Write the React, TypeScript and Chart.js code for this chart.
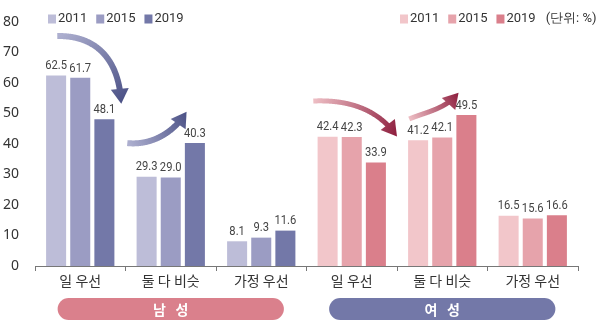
import React, { useEffect, useRef } from "react";
import { Chart, registerables } from "chart.js";

Chart.register(...registerables);

const categories = ["일 우선", "둘 다 비슷", "가정 우선", "일 우선", "둘 다 비슷", "가정 우선"];
const years = ["2011", "2015", "2019"];
const v2011 = [62.5, 29.3, 8.1, 42.4, 41.2, 16.5];
const v2015 = [61.7, 29.0, 9.3, 42.3, 42.1, 15.6];
const v2019 = [48.1, 40.3, 11.6, 33.9, 49.5, 16.6];
const yTickMin = 0;
const yTickMax = 80;
const yTickStep = 10;
const groupLabels = ["남   성", "여   성"];
const unitLabel = "(단위: %)";

const maleColors = ["#bdbdd8", "#9b9cc3", "#7378a8"];
const femaleColors = ["#f2c6ca", "#e6a3ab", "#da7f8b"];
const malePill = "#da808c";
const femalePill = "#7378a8";

// arrows: [catPos, value] for start, cp1, cp2, tip
const arrows = [
  { pts: [[-0.254, 75.4], [0.17, 75.6], [0.43, 68], [0.453, 53.2]], from: "#aeb0d0", to: "#4b5186", w: 6 },
  { pts: [[0.52, 40.3], [0.78, 39.5], [1.03, 43.5], [1.175, 50.6]], from: "#aeb0d0", to: "#4b5186", w: 6 },
  { pts: [[2.575, 54.1], [2.99, 54.6], [3.3, 51], [3.5, 42.5]], from: "#eebfc5", to: "#8d1d3d", w: 5 },
  { pts: [[3.635, 48.2], [3.83, 50.6], [4.04, 51.5], [4.18, 56.8]], from: "#eebfc5", to: "#8d1d3d", w: 5 },
];

const overlay = {
  id: "overlay",
  afterDatasetsDraw(chart: any) {
    const ctx = chart.ctx;
    const xs = chart.scales.x;
    const ys = chart.scales.y;
    const x0 = xs.getPixelForValue(0);
    const step = xs.getPixelForValue(1) - x0;
    const px = (c: number) => x0 + c * step;
    const py = (v: number) => ys.getPixelForValue(v);

    // value labels
    chart.data.datasets.forEach((ds: any, di: number) => {
      const meta = chart.getDatasetMeta(di);
      meta.data.forEach((bar: any, i: number) => {
        ctx.save();
        ctx.font = "13px Roboto";
        ctx.fillStyle = "#444";
        ctx.textAlign = "center";
        ctx.textBaseline = "bottom";
        ctx.translate(bar.x, bar.y - 3);
        ctx.scale(0.86, 1);
        ctx.fillText(ds.data[i].toFixed(1), 0, 0);
        ctx.restore();
      });
    });

    // arrows
    arrows.forEach((a) => {
      const P = a.pts.map(([c, v]) => [px(c), py(v)]);
      const [s, c1, c2, t] = P;
      const bez = (u: number) => {
        const m = 1 - u;
        return [
          m * m * m * s[0] + 3 * m * m * u * c1[0] + 3 * m * u * u * c2[0] + u * u * u * t[0],
          m * m * m * s[1] + 3 * m * m * u * c1[1] + 3 * m * u * u * c2[1] + u * u * u * t[1],
        ];
      };
      const headLen = 15;
      const headHalf = 9;
      const grad = ctx.createLinearGradient(s[0], s[1], t[0], t[1]);
      grad.addColorStop(0, a.from);
      grad.addColorStop(1, a.to);
      ctx.save();
      ctx.strokeStyle = grad;
      ctx.fillStyle = grad;
      ctx.lineWidth = a.w;
      ctx.lineCap = "butt";
      ctx.beginPath();
      ctx.moveTo(s[0], s[1]);
      for (let i = 1; i <= 200; i++) {
        const p = bez(i / 200);
        const d = Math.hypot(t[0] - p[0], t[1] - p[1]);
        if (d < headLen * 0.85) break;
        ctx.lineTo(p[0], p[1]);
      }
      ctx.stroke();
      const ref = bez(0.9);
      let dx = t[0] - ref[0];
      let dy = t[1] - ref[1];
      const len = Math.hypot(dx, dy);
      dx /= len;
      dy /= len;
      const bx = t[0] - dx * headLen;
      const by = t[1] - dy * headLen;
      ctx.beginPath();
      ctx.moveTo(t[0], t[1]);
      ctx.lineTo(bx - dy * headHalf, by + dx * headHalf);
      ctx.lineTo(bx + dy * headHalf, by - dx * headHalf);
      ctx.closePath();
      ctx.fill();
      ctx.restore();
    });

    // legends
    ctx.save();
    ctx.font = "13px Roboto";
    ctx.textBaseline = "middle";
    ctx.textAlign = "left";
    const ly = 19;
    const drawLegend = (startX: number, colors: string[]) => {
      let x = startX;
      years.forEach((yr, i) => {
        ctx.fillStyle = colors[i];
        ctx.fillRect(x, ly - 4.5, 8, 9);
        ctx.fillStyle = "#333";
        ctx.fillText(yr, x + 10, ly);
        x += 10 + ctx.measureText(yr).width + 9;
      });
      return x;
    };
    drawLegend(48, maleColors);
    const endX = drawLegend(400, femaleColors);
    ctx.fillStyle = "#333";
    ctx.fillText(unitLabel, endX + 1, ly);
    ctx.restore();

    // group pills
    ctx.save();
    const pillTop = 298;
    const pillH = 22;
    [[0, malePill], [3, femalePill]].forEach(([c0, col]: any, gi) => {
      const left = px(c0 - 0.25);
      const right = px(c0 + 2.25);
      ctx.fillStyle = col;
      ctx.beginPath();
      ctx.roundRect(left, pillTop, right - left, pillH, pillH / 2);
      ctx.fill();
      ctx.fillStyle = "#fff";
      ctx.font = "bold 14px 'Noto Sans CJK KR'";
      ctx.textAlign = "center";
      ctx.textBaseline = "middle";
      ctx.fillText(groupLabels[gi], (left + right) / 2, pillTop + pillH / 2 + 1);
    });
    ctx.restore();
  },
};

export default function App() {
  const ref = useRef<HTMLCanvasElement>(null);
  useEffect(() => {
    const colorsFor = (yi: number) =>
      categories.map((_, i) => (i < 3 ? maleColors[yi] : femaleColors[yi]));
    const chart = new Chart(ref.current as HTMLCanvasElement, {
      type: "bar",
      data: {
        labels: categories,
        datasets: [v2011, v2015, v2019].map((d, yi) => ({
          label: years[yi],
          data: d,
          backgroundColor: colorsFor(yi),
          categoryPercentage: 0.8,
          barPercentage: 0.83,
        })),
      },
      options: {
        responsive: false,
        animation: false,
        layout: { padding: { top: 22, right: 22, bottom: 0, left: 0 } },
        plugins: { legend: { display: false }, tooltip: { enabled: false } },
        scales: {
          x: {
            afterFit: (s: any) => {
              s.height = 66;
            },
            grid: {
              display: true,
              offset: true,
              drawOnChartArea: false,
              drawTicks: true,
              tickLength: 5,
              color: "#777",
            },
            border: { display: true, color: "#777", width: 1 },
            ticks: {
              color: "#333",
              font: { family: "'Noto Sans CJK KR'", size: 14 },
              padding: 1,
            },
          },
          y: {
            min: yTickMin,
            max: yTickMax,
            afterFit: (s: any) => {
              s.width = 35;
            },
            grid: { display: false },
            border: { display: false },
            ticks: {
              stepSize: yTickStep,
              color: "#333",
              font: { family: "'Noto Sans'", size: 14 },
              padding: 8,
            },
          },
        },
      },
      plugins: [overlay],
    });
    return () => chart.destroy();
  }, []);
  return (
    <div style={{ position: "absolute", left: 0, top: 0, width: 600, height: 332, background: "#fff" }}>
      <canvas ref={ref} width={600} height={332} />
    </div>
  );
}
